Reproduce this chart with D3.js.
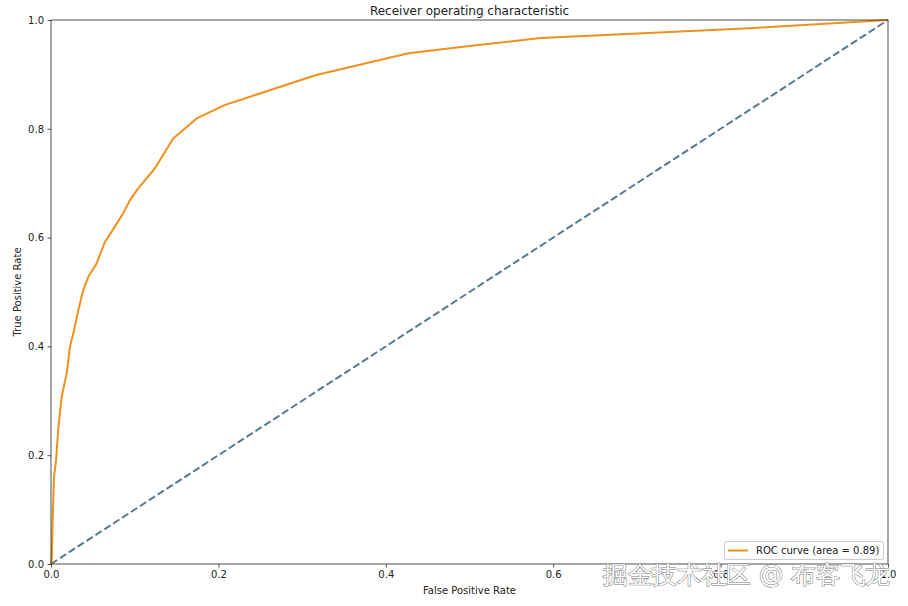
<!DOCTYPE html>
<html>
<head>
<meta charset="utf-8">
<script src="https://cdn.jsdelivr.net/npm/d3@7"></script>
<style>
  html, body { margin: 0; padding: 0; background: #fff; }
  svg { display: block; }
  text { font-family: "DejaVu Sans", sans-serif; fill: #222; }
</style>
</head>
<body>
<svg id="chart" width="908" height="606"></svg>
<script>
// ROC curve points
const fpr = [0, 0.001, 0.002, 0.0036, 0.006, 0.0088, 0.0127, 0.0187, 0.0227, 0.0267, 0.0327,
  0.0386, 0.0446, 0.0546, 0.0645, 0.0725, 0.0864, 0.0944, 0.104, 0.124, 0.146, 0.174,
  0.208, 0.226, 0.317, 0.427, 0.50, 0.585, 0.656, 0.835, 1.0];
const tpr = [0, 0.011, 0.081, 0.16, 0.19, 0.25, 0.307, 0.35, 0.40, 0.424, 0.467,
  0.504, 0.528, 0.553, 0.592, 0.611, 0.645, 0.669, 0.69, 0.727, 0.782, 0.819,
  0.844, 0.853, 0.899, 0.939, 0.952, 0.967, 0.972, 0.985, 1.0];
const diagX = [0, 1];
const diagY = [0, 1];
const ticks = [0.0, 0.2, 0.4, 0.6, 0.8, 1.0];
const titleText = "Receiver operating characteristic";
const xLabel = "False Positive Rate";
const yLabel = "True Positive Rate";
const legendLabel = "ROC curve (area = 0.89)";
const watermark = "掘金技术社区 @ 布客飞龙";

const svg = d3.select("#chart");
const m = {left: 51, right: 888, top: 20, bottom: 564};
const x = d3.scaleLinear().domain([0, 1]).range([m.left, m.right]);
const y = d3.scaleLinear().domain([0, 1]).range([m.bottom, m.top]);

const fmt = d3.format(".1f");

// axes
const xAxis = svg.append("g").attr("transform", `translate(0,${m.bottom})`)
  .call(d3.axisBottom(x).tickValues(ticks).tickFormat(fmt).tickSize(3.5).tickPadding(3.5));
const yAxis = svg.append("g").attr("transform", `translate(${m.left},0)`)
  .call(d3.axisLeft(y).tickValues(ticks).tickFormat(fmt).tickSize(3.5).tickPadding(3.5));
[xAxis, yAxis].forEach(g => {
  g.select(".domain").remove();
  g.selectAll("line").attr("stroke", "#222").attr("stroke-width", 0.8);
  g.selectAll("text").attr("font-size", 10).attr("fill", "#222")
    .attr("font-family", "DejaVu Sans, sans-serif");
});

// diagonal
const line = d3.line().x(d => x(d[0])).y(d => y(d[1]));
svg.append("path")
  .datum(diagX.map((v, i) => [v, diagY[i]]))
  .attr("d", line)
  .attr("fill", "none")
  .attr("stroke", "#587a8c")
  .attr("stroke-width", 2)
  .attr("stroke-dasharray", "7.4,3.2");

// ROC curve
svg.append("path")
  .datum(fpr.map((v, i) => [v, tpr[i]]))
  .attr("d", line)
  .attr("fill", "none")
  .attr("stroke", "#f0901e")
  .attr("stroke-width", 2)
  .attr("stroke-linejoin", "round");

// frame
svg.append("rect")
  .attr("x", m.left).attr("y", m.top)
  .attr("width", m.right - m.left).attr("height", m.bottom - m.top)
  .attr("fill", "none").attr("stroke", "#222").attr("stroke-width", 0.8);

// title and labels
svg.append("text").attr("x", (m.left + m.right) / 2).attr("y", 15)
  .attr("text-anchor", "middle").attr("font-size", 12).text(titleText);
svg.append("text").attr("x", (m.left + m.right) / 2).attr("y", 594)
  .attr("text-anchor", "middle").attr("font-size", 10).text(xLabel);
svg.append("text")
  .attr("transform", `translate(21,${(m.top + m.bottom) / 2}) rotate(-90)`)
  .attr("text-anchor", "middle").attr("font-size", 10).text(yLabel);

// legend
const lg = svg.append("g");
lg.append("rect").attr("x", 724.5).attr("y", 541.5).attr("width", 159).attr("height", 18)
  .attr("rx", 2).attr("fill", "#fff").attr("fill-opacity", 0.8)
  .attr("stroke", "#ccc").attr("stroke-width", 1);
lg.append("line").attr("x1", 728).attr("x2", 748).attr("y1", 550.5).attr("y2", 550.5)
  .attr("stroke", "#f0901e").attr("stroke-width", 2);
lg.append("text").attr("x", 756).attr("y", 554).attr("font-size", 10).text(legendLabel);

// watermark
svg.append("text").attr("x", 603).attr("y", 583)
  .attr("font-family", "Noto Sans CJK SC, sans-serif")
  .attr("font-size", 24)
  .attr("textLength", 287).attr("lengthAdjust", "spacingAndGlyphs")
  .style("fill", "#fff").attr("stroke", "#777").attr("stroke-width", 1)
  .attr("paint-order", "stroke")
  .text(watermark);
</script>
</body>
</html>
